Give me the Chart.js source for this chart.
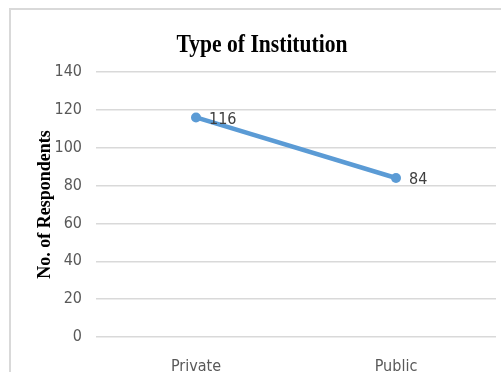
<!DOCTYPE html>
<html>
<head>
<meta charset="utf-8">
<script src="https://cdn.jsdelivr.net/npm/chart.js@4.4.1/dist/chart.umd.min.js"></script>
<style>
  html, body { margin: 0; padding: 0; background: #ffffff; }
  #wrap { position: relative; width: 501px; height: 372px; }
</style>
</head>
<body>
<div id="wrap"><canvas id="lineChart1" width="501" height="372"></canvas></div>
<script>
const categories = ["Private", "Public"];
const respondents = [116, 84];
const yTicks = [0, 20, 40, 60, 80, 100, 120, 140];
const chartTitle = "Type of Institution";
const yTitle = "No. of Respondents";

const narrowFont = "'Liberation Sans Narrow', 'DejaVu Sans Condensed', 'Noto Sans', sans-serif";
const serifFont = "'Liberation Serif', 'DejaVu Serif', serif";

// light frame round the picture + the title, drawn by hand so it can sit off-centre
const framePlugin = {
  id: "frame",
  beforeDraw(chart) {
    const ctx = chart.ctx;
    ctx.save();
    ctx.strokeStyle = "#d9d9d9";
    ctx.lineWidth = 2;
    ctx.beginPath();
    ctx.moveTo(10, chart.height);
    ctx.lineTo(10, 9);
    ctx.lineTo(chart.width, 9);
    ctx.stroke();
    ctx.restore();
  },
  afterDraw(chart) {
    const ctx = chart.ctx;
    ctx.save();
    ctx.translate(262, 45);
    ctx.scale(0.83, 1);
    ctx.font = "bold 26px " + serifFont;
    ctx.fillStyle = "#000000";
    ctx.textAlign = "center";
    ctx.textBaseline = "middle";
    ctx.fillText(chartTitle, 0, 0);
    ctx.restore();
  },
};

// value labels to the right of each point
const valueLabels = {
  id: "valueLabels",
  afterDatasetsDraw(chart) {
    const ctx = chart.ctx;
    const meta = chart.getDatasetMeta(0);
    ctx.save();
    ctx.font = "16px " + narrowFont;
    ctx.fillStyle = "#404040";
    ctx.textAlign = "left";
    ctx.textBaseline = "middle";
    meta.data.forEach((pt, i) => {
      ctx.fillText(String(chart.data.datasets[0].data[i]), pt.x + 13, pt.y + 2);
    });
    ctx.restore();
  },
};

const ctx = document.getElementById("lineChart1").getContext("2d");
new Chart(ctx, {
  type: "line",
  data: {
    labels: categories,
    datasets: [
      {
        data: respondents,
        borderColor: "#5b9bd5",
        backgroundColor: "#5b9bd5",
        borderWidth: 4.5,
        pointRadius: 5,
        pointBorderWidth: 0,
        pointBackgroundColor: "#5b9bd5",
        tension: 0,
      },
    ],
  },
  options: {
    responsive: false,
    animation: false,
    layout: {
      padding: { left: 0, right: 4, top: 72, bottom: 0 },
    },
    plugins: {
      legend: { display: false },
      tooltip: { enabled: false },
      title: { display: false },
    },
    scales: {
      x: {
        offset: true,
        grid: { display: false },
        border: { display: false },
        ticks: {
          color: "#595959",
          font: { size: 16, family: narrowFont },
          padding: 12,
        },
        afterFit: (scale) => { scale.height = 35; },
      },
      y: {
        min: 0,
        max: 140,
        afterBuildTicks: (scale) => { scale.ticks = yTicks.map((v) => ({ value: v })); },
        grid: { color: "#d9d9d9", lineWidth: 1.5, drawTicks: false },
        border: { display: false },
        ticks: {
          color: "#595959",
          font: { size: 16, family: narrowFont },
          padding: 14,
        },
        title: {
          display: true,
          text: yTitle,
          color: "#000000",
          font: { size: 18, weight: "bold", family: serifFont },
          padding: { top: 35, bottom: 0 },
        },
        afterFit: (scale) => { scale.width = 96; },
      },
    },
  },
  plugins: [framePlugin, valueLabels],
});
</script>
</body>
</html>
